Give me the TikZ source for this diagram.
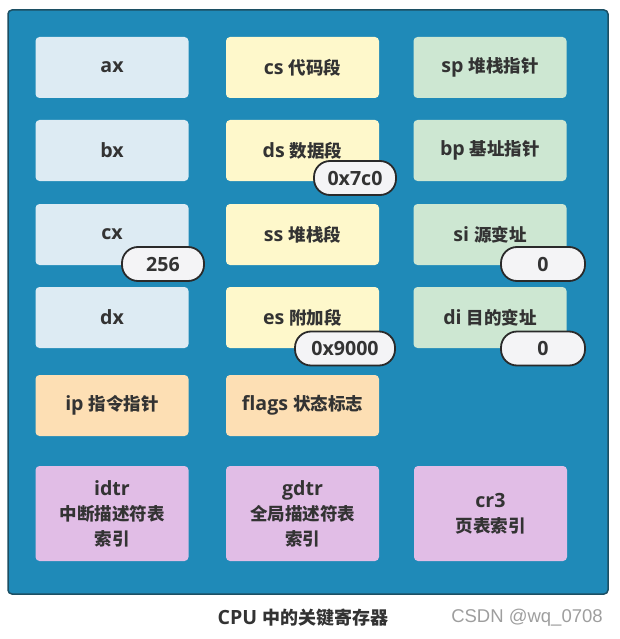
\documentclass[tikz,border=0pt]{standalone}
\usepackage{fontspec}
\setmainfont{Open Sans}[Scale=1.12]
\newfontfamily\cjk{Noto Sans CJK SC}
\newfontfamily\wmfont{Liberation Sans}
\definecolor{panelfill}{HTML}{1F8AB8}
\definecolor{paneledge}{HTML}{1C4F63}
\definecolor{cblue}{HTML}{DDEBF3}
\definecolor{cyellow}{HTML}{FEF8CB}
\definecolor{cgreen}{HTML}{CDE7D2}
\definecolor{corange}{HTML}{FDDFB4}
\definecolor{cpurple}{HTML}{E1BDE6}
\definecolor{ink}{HTML}{333333}
\definecolor{pillfill}{HTML}{F4F4F6}
\definecolor{pilledge}{HTML}{2A2A2A}
\tikzset{
  reg/.style={rectangle, rounded corners=4pt, minimum width=153pt, minimum height=61pt,
    inner sep=0pt, text=ink, font=\fontsize{17.5}{25}\selectfont\bfseries, align=center},
  pill/.style={rectangle, rounded corners=16pt, minimum height=34pt, inner sep=0pt,
    draw=pilledge, line width=1.8pt, fill=pillfill, text=ink,
    font=\fontsize{17.5}{20}\selectfont\bfseries},
}
\begin{document}
\begin{tikzpicture}[x=1pt,y=-1pt]
\useasboundingbox (0,0) rectangle (619,639);
% CPU panel
\node[draw=paneledge, line width=1.5pt, fill=panelfill, rounded corners=4pt,
  minimum width=600pt, minimum height=584pt, inner sep=0pt] (cpu) at (308,302) {};
% general purpose registers
\node[reg, fill=cblue] (ax) at (112,67.5) {ax};
\node[reg, fill=cblue] (bx) at (112,150.5) {bx};
\node[reg, fill=cblue] (cx) at (112,234.5) {cx};
\node[reg, fill=cblue] (dx) at (112,317.5) {dx};
% segment registers
\node[reg, fill=cyellow] (cs) at (302.5,67.5) {cs {\cjk 代码段}};
\node[reg, fill=cyellow] (ds) at (302.5,150.5) {ds {\cjk 数据段}};
\node[reg, fill=cyellow] (ss) at (302.5,234.5) {ss {\cjk 堆栈段}};
\node[reg, fill=cyellow] (es) at (302.5,317.5) {es {\cjk 附加段}};
% pointer and index registers
\node[reg, fill=cgreen] (sp) at (490,67.5) {sp {\cjk 堆栈指针}};
\node[reg, fill=cgreen] (bp) at (490,150.5) {bp {\cjk 基址指针}};
\node[reg, fill=cgreen] (si) at (490,234.5) {si {\cjk 源变址}};
\node[reg, fill=cgreen] (di) at (490,317.5) {di {\cjk 目的变址}};
% control registers
\node[reg, fill=corange] (ip) at (112,405.5) {ip {\cjk 指令指针}};
\node[reg, fill=corange] (flags) at (302.5,405.5) {flags {\cjk 状态标志}};
% system table registers
\node[reg, fill=cpurple, minimum height=95pt] (idtr) at (112,513.5) {idtr\\{\cjk 中断描述符表}\\{\cjk 索引}};
\node[reg, fill=cpurple, minimum height=95pt] (gdtr) at (302.5,513.5) {gdtr\\{\cjk 全局描述符表}\\{\cjk 索引}};
\node[reg, fill=cpurple, minimum height=95pt] (cr3) at (490.5,513.5) {cr3\\{\cjk 页表索引}};
% current values
\node[pill, minimum width=82pt] (cxval) at (163,264) {256};
\node[pill, minimum width=82pt] (dsval) at (355,178) {0x7c0};
\node[pill, minimum width=100pt] (esval) at (345,348.5) {0x9000};
\node[pill, minimum width=84pt] (sival) at (543,264) {0};
\node[pill, minimum width=84pt] (dival) at (543,348.5) {0};
% caption
\node[text=ink, font=\fontsize{17.5}{20}\selectfont\bfseries] (caption) at (303,618) {CPU {\cjk\fontsize{18}{20}\selectfont 中的关键寄存器}};
\node[text=black!38, font=\wmfont\fontsize{18.5}{20}\selectfont] (mark) at (527,618) {CSDN @wq\_0708};
\end{tikzpicture}
\end{document}
